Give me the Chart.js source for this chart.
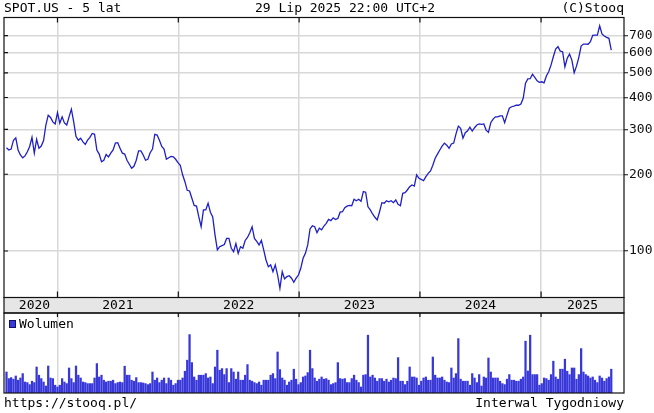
<!DOCTYPE html>
<html>
<head>
<meta charset="utf-8">
<script src="https://cdn.jsdelivr.net/npm/chart.js@4"></script>
<style>
  html, body { margin: 0; padding: 0; background: #fff; }
  #wrap { position: relative; width: 654px; height: 413px; overflow: hidden; }
  canvas { position: absolute; left: 0; }
  #price { top: 0; }
  #volume { top: 297px; }
</style>
</head>
<body>
<div id="wrap">
  <canvas id="price" width="654" height="299"></canvas>
  <canvas id="volume" width="654" height="116"></canvas>
</div>
<script>
// weekly closes, first week ends 2020-07-31
const prices = [
  254, 249, 251, 272, 278, 249, 238, 232, 236, 245,
  257, 279, 242, 274, 253, 258, 271, 312, 341, 334,
  321, 315, 349, 317, 336, 318, 312, 336, 360, 321,
  281, 272, 277, 268, 262, 272, 279, 289, 287, 249,
  240, 224, 227, 239, 234, 242, 249, 265, 266, 253,
  242, 240, 227, 219, 211, 215, 227, 247, 247, 238,
  227, 229, 243, 251, 287, 285, 272, 257, 251, 229,
  232, 235, 234, 229, 222, 217, 199, 187, 173, 172,
  161, 151, 150, 136, 124.5, 145, 145, 154, 142, 136,
  115.5, 101, 104, 105, 106, 112, 112, 102.5, 99.4, 107,
  97.9, 104, 102.5, 110, 113, 118, 124.5, 112, 109, 105.6,
  110, 101, 92.2, 86.8, 88.2, 82.9, 88.2, 80.5, 71.4, 82.9,
  77.7, 79.3, 80, 78.2, 75.4, 78.2, 80.5, 85.5, 93.6, 97.9,
  105.6, 122, 125.6, 124.5, 118, 122.8, 121, 125.3, 128.4, 133,
  131.5, 135, 133, 134, 142, 142.6, 147.8, 150, 151, 150.5,
  159.5, 157.5, 159.5, 156.6, 171, 170, 149, 145, 139.7, 135.6,
  132.3, 142.6, 154.7, 154, 157.5, 156, 157.5, 154.7, 158.5, 152.4,
  150.5, 168.4, 169.3, 173.5, 178.7, 181.5, 179.8, 199, 192.8, 191,
  188.7, 195.6, 201.7, 206, 217, 231, 240, 249, 258, 265,
  260, 253, 263, 265, 288, 309, 303, 277, 291, 296,
  306, 295.5, 304.5, 312, 315, 314, 315, 298, 292, 318.5,
  329, 336, 336, 339, 339, 318.5, 341, 363, 368, 370,
  373, 373, 377, 397, 455, 473, 474, 494, 480, 465,
  459, 461, 457, 486, 505, 536, 578, 620, 633, 608,
  605, 528, 570, 592, 561, 500, 531, 575, 637, 648,
  648, 647, 662, 701, 703, 703, 765, 710, 697, 689,
  683, 614
];

// weekly volume, millions of shares
const volumes = [
  10.5, 7.2, 7.7, 6.9, 8.5, 6.4, 7.5, 9.7, 5.5, 5.2,
  4.2, 5.9, 5.2, 13, 8.9, 7.2, 5.5, 3.5, 13.5, 7.5,
  7.2, 3.9, 3, 3.9, 7.2, 5.5, 4.7, 12.5, 7.2, 5.2,
  13.5, 8.9, 7.5, 5.5, 5.2, 4.7, 4.7, 4.7, 7.5, 14.7,
  8, 8.9, 6.4, 5.5, 5.9, 5.9, 6.4, 4.7, 5.2, 5.5,
  5.2, 13.4, 8.9, 8.9, 6.4, 5.9, 7.7, 5.2, 5.2, 5,
  4.7, 4.2, 4.7, 10.5, 6.4, 7.5, 5.2, 6.4, 7.5, 4.7,
  7.5, 6.4, 3.9, 4.7, 6.4, 6.4, 7.5, 10.9, 16.4, 29.2,
  15.2, 8, 6.4, 8.9, 8.9, 8.9, 9.7, 7.5,
  8, 4.7, 13, 21.4, 11.4, 12.2, 9.2, 12.2, 5.2, 12.2,
  10.5, 6.9, 10.5, 6.4, 6.4, 8.9, 14.2, 6.4, 5.9, 5.2,
  4.7, 5.5, 3.9, 6.4, 6.4, 6.4, 8.9, 9.7, 7.2, 20.5,
  11.7, 7.5, 6.4, 3.9, 5.5, 6.4, 11.9, 6.9, 4.2, 5.2,
  8, 8.5, 10.2, 21.4, 12.2, 7.5, 5.9, 6.9, 8, 6.9,
  7.2, 6.4, 4.2, 4.7, 5.2, 15.2, 7.2, 6.9, 7.2, 5.2,
  5.2, 7.2, 8.9, 6.4, 5.2, 3, 8.9, 9.2, 28.9, 8,
  8.9, 7.5, 5.9, 7.2, 7.2, 5.9, 6.9, 5.5, 6.4, 7.5,
  7.2, 17.7, 5.9, 5.9, 4.2, 5.9, 13, 8, 8,
  7.5, 3.9, 5.9, 7.5, 8, 6.4, 6.4, 18, 8.9, 7.5,
  7.5, 8, 6.4, 5.5, 5.2, 12.5, 7.5, 9.7, 27.2, 6.9,
  5.9, 5.9, 5.9, 3.9, 9.7, 7.5, 5.2, 9.2, 3.5, 8,
  7.5, 17.5, 10.5, 7.5, 7.5, 7.5, 5.9, 4.7, 4.2, 6.9,
  9.2, 6.4, 6.4, 5.9, 5.9, 6.9, 8, 25.9, 11, 28.9,
  9.2, 9.2, 9.2, 3.9, 4.7, 7.5, 7.2, 6.4, 9.2, 15.9,
  8, 6.9, 11.9, 11.9, 16.9, 10.9, 9.2, 12.5, 12.5, 6.9,
  9.2, 22.2, 10.5, 9.2, 8.5, 7.5, 8, 6.4, 5.2, 8.5,
  7.5, 5.9, 7.2, 8, 11.9
];

const priceTicks = [100, 200, 300, 400, 500, 600, 700];
const years = ['2020', '2021', '2022', '2023', '2024', '2025'];

// week index of each Jan 1 (week 0 = 2020-07-31)
const startDay = Date.UTC(2020, 6, 31);
const yearStarts = years.slice(1).map(y => (Date.UTC(+y, 0, 1) - startDay) / (7 * 864e5));

const FONT = '13px "DejaVu Sans Mono", monospace';
const GRID = '#d8d8d8';
const LINE = '#1f1fc6';
const BAR = '#3838d8';

Chart.defaults.font.family = '"DejaVu Sans Mono", monospace';
Chart.defaults.font.size = 13;
Chart.defaults.color = '#111';
Chart.defaults.animation = false;

function makeX() {
    return {
        type: 'linear',
        min: -1.08,
        max: 266.5,
        offset: false,
        afterBuildTicks: s => { s.ticks = yearStarts.map(v => ({ value: v })); },
        afterFit: s => { s.height = 0; s.paddingLeft = 0; s.paddingRight = 0; },
        ticks: { display: false },
        grid: { color: GRID, lineWidth: 1.5, drawTicks: false, offset: false },
        border: { display: false }
    };
}

// ramka, tytuł, kreski przy osiach
const pricePanel = {
    id: 'pricePanel',
    afterDraw(chart) {
        const { ctx, chartArea: a, scales: { x, y } } = chart;
        ctx.save();
        ctx.font = FONT;
        ctx.fillStyle = '#000';
        ctx.textBaseline = 'middle';
        ctx.textAlign = 'left';
        ctx.fillText('SPOT.US - 5 lat', 4, 8.5);
        ctx.fillText('29 Lip 2025 22:00 UTC+2', 255, 8.5);
        ctx.textAlign = 'right';
        ctx.fillText('(C)Stooq', a.right, 8.5);

        ctx.strokeStyle = '#111';
        ctx.lineWidth = 1.2;
        ctx.strokeRect(a.left, a.top, a.right - a.left, a.bottom - a.top);
        ctx.beginPath();
        yearStarts.forEach(v => {
            const px = x.getPixelForValue(v);
            ctx.moveTo(px, a.top); ctx.lineTo(px, a.top + 5);
            ctx.moveTo(px, a.bottom - 6); ctx.lineTo(px, a.bottom);
        });
        priceTicks.forEach(v => {
            const py = y.getPixelForValue(v);
            ctx.moveTo(a.left, py); ctx.lineTo(a.left + 4, py);
        });
        ctx.stroke();
        ctx.restore();
    }
};

// pasek lat, legenda, stopka
const volumePanel = {
    id: 'volumePanel',
    beforeDraw(chart) {
        const { ctx, chartArea: a } = chart;
        ctx.save();
        ctx.fillStyle = '#e6e6e6';
        ctx.fillRect(a.left, 0.5, a.right - a.left, a.top - 0.5);
        ctx.restore();
    },
    afterDraw(chart) {
        const { ctx, chartArea: a, scales: { x } } = chart;
        ctx.save();
        ctx.strokeStyle = '#111';
        ctx.lineWidth = 1.2;
        ctx.strokeRect(a.left, 0.5, a.right - a.left, a.top - 0.5);
        ctx.strokeRect(a.left, a.top, a.right - a.left, a.bottom - a.top);

        const edges = [a.left, ...yearStarts.map(v => x.getPixelForValue(v)), a.right];
        ctx.beginPath();
        edges.slice(1, -1).forEach(px => {
            ctx.moveTo(px, a.top); ctx.lineTo(px, a.top + 4);
        });
        ctx.stroke();

        ctx.font = FONT;
        ctx.fillStyle = '#000';
        ctx.textBaseline = 'middle';
        ctx.textAlign = 'center';
        years.forEach((label, k) => {
            const cx = k === 0 ? edges[1] - 23 : (edges[k] + edges[k + 1]) / 2;
            ctx.fillText(label, cx, (a.top + 0.5) / 2 + 0.5);
        });

        // legenda
        ctx.fillStyle = BAR;
        ctx.fillRect(9, 23, 7, 8);
        ctx.strokeStyle = '#10106a';
        ctx.lineWidth = 1;
        ctx.strokeRect(9.5, 23.5, 6, 7);
        ctx.fillStyle = '#000';
        ctx.textAlign = 'left';
        ctx.fillText(chart.data.datasets[0].label, 19, 27.5);

        // stopka
        ctx.fillText('https://stooq.pl/', 4, 106.5);
        ctx.textAlign = 'right';
        ctx.fillText('Interwal Tygodniowy', a.right, 106.5);
        ctx.restore();
    }
};

new Chart(document.getElementById('price'), {
    type: 'line',
    data: {
        datasets: [{
            label: 'SPOT.US',
            data: prices.map((v, i) => ({ x: i, y: v })),
            borderColor: LINE,
            borderWidth: 1.3,
            pointRadius: 0,
            tension: 0
        }]
    },
    options: {
        responsive: false,
        layout: { padding: { left: 4, top: 17.5, right: 0, bottom: 1.5 } },
        plugins: { legend: { display: false }, tooltip: { enabled: false } },
        scales: {
            x: makeX(),
            y: {
                type: 'logarithmic',
                position: 'right',
                min: 65.7,
                max: 824,
                afterBuildTicks: s => { s.ticks = priceTicks.map(v => ({ value: v })); },
                afterFit: s => { s.width = 30; s.paddingTop = 0; s.paddingBottom = 0; },
                ticks: { padding: 1, color: '#111', callback: v => String(v) },
                grid: { color: GRID, lineWidth: 1.5, tickLength: 4, tickColor: '#111', tickWidth: 1 },
                border: { display: false }
            }
        }
    },
    plugins: [pricePanel]
});

new Chart(document.getElementById('volume'), {
    type: 'bar',
    data: {
        datasets: [{
            label: 'Wolumen',
            data: volumes.map((v, i) => ({ x: i, y: v })),
            backgroundColor: BAR,
            barThickness: 1.6
        }]
    },
    options: {
        responsive: false,
        layout: { padding: { left: 4, top: 16, right: 0, bottom: 20 } },
        plugins: { legend: { display: false }, tooltip: { enabled: false } },
        scales: {
            x: makeX(),
            y: {
                min: 0,
                max: 40,
                position: 'right',
                afterFit: s => { s.width = 30; s.paddingTop = 0; s.paddingBottom = 0; },
                ticks: { display: false },
                grid: { display: false },
                border: { display: false }
            }
        }
    },
    plugins: [volumePanel]
});
</script>
</body>
</html>
